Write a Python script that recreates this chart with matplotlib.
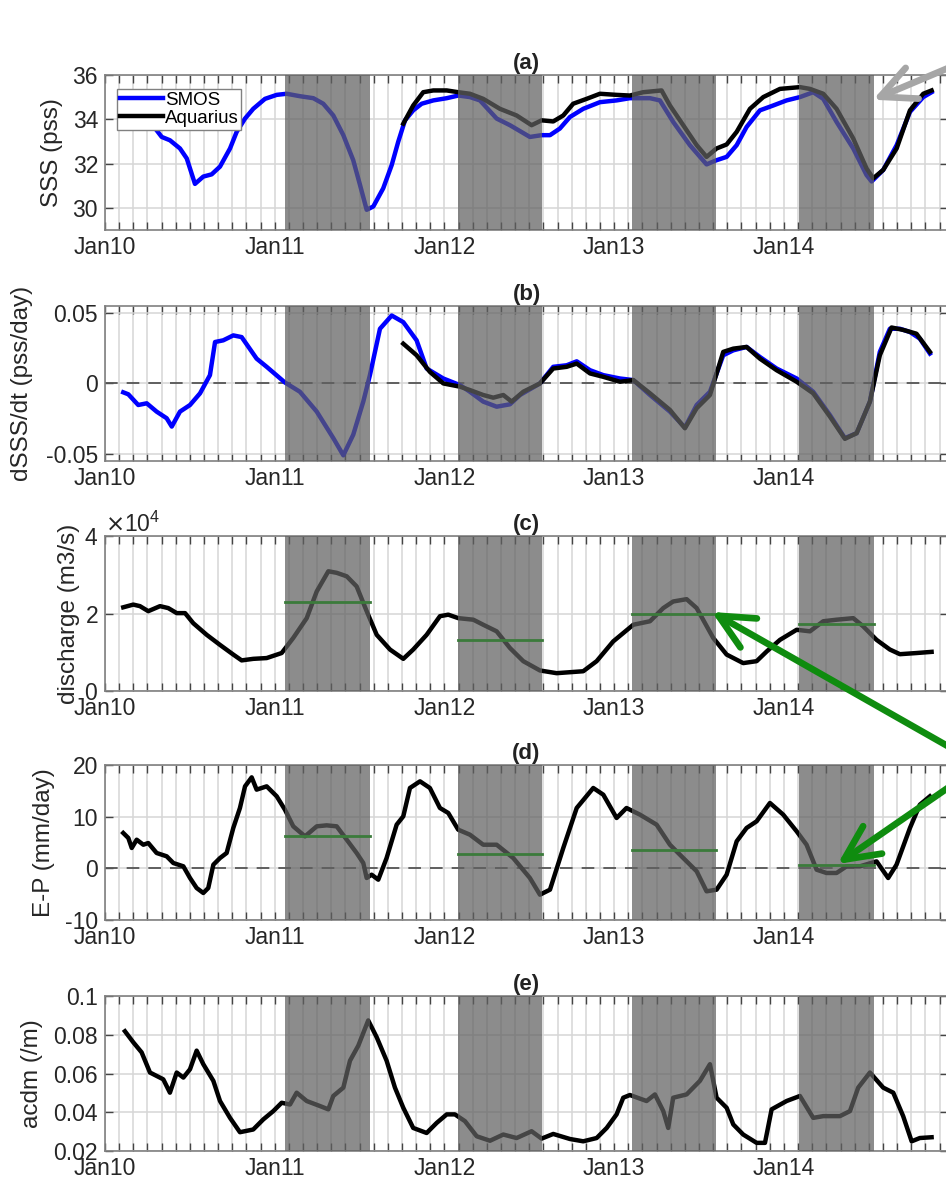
import numpy as np
import matplotlib.pyplot as plt
from matplotlib.ticker import FixedLocator

plt.rcParams['font.family'] = ['Liberation Sans', 'DejaVu Sans']
plt.rcParams['axes.unicode_minus'] = False

# time axis: months since 1 Jan 2010
year_ticks = [0, 12, 24, 36, 48]
year_labels = ['Jan10', 'Jan11', 'Jan12', 'Jan13', 'Jan14']
month_ticks = list(range(1, 60))

# shaded periods (months since Jan 2010)
shade_start = [12.75, 24.95, 37.25, 49.1]
shade_end = [18.75, 30.9, 43.2, 54.4]

# (a) SSS
smos_sss_t = [1.29, 3.41, 4.01, 4.59, 5.30, 5.78, 6.36, 6.95, 7.54, 8.13, 8.84, 9.31, 9.90, 10.48,
              11.31, 12.14, 12.84, 13.78, 14.73, 15.43, 16.14, 16.85, 17.55, 18.03, 18.50, 18.97,
              19.67, 20.27, 20.73, 21.21, 21.79, 22.39, 23.21, 24.16, 24.98, 25.80, 26.51, 27.69,
              28.63, 30.04, 30.87, 31.46, 32.16, 32.87, 33.81, 34.99, 36.17, 37.11, 38.53, 39.23,
              40.17, 41.35, 42.53, 43.24, 43.95, 44.66, 45.36, 46.30, 47.24, 48.19, 49.13, 50.07,
              50.78, 51.72, 52.90, 53.84, 54.20, 55.02, 55.97, 56.91, 57.85, 58.44]
smos_sss = [34.40, 33.70, 33.20, 33.05, 32.68, 32.23, 31.08, 31.41, 31.51, 31.86, 32.68, 33.43, 34.03,
            34.47, 34.92, 35.10, 35.15, 35.04, 34.95, 34.70, 34.17, 33.28, 32.15, 31.03, 29.91, 30.06,
            30.88, 31.93, 32.98, 33.95, 34.40, 34.70, 34.85, 34.95, 35.07, 35.00, 34.85, 34.03, 33.73,
            33.20, 33.28, 33.28, 33.58, 34.10, 34.47, 34.77, 34.85, 34.95, 34.95, 34.85, 33.88, 32.83,
            31.96, 32.15, 32.30, 32.83, 33.65, 34.40, 34.62, 34.85, 35.00, 35.22, 34.92, 33.88, 32.68,
            31.48, 31.19, 31.71, 32.83, 34.33, 35.00, 35.22]
aq_sss_t = [21.09, 21.79, 22.50, 23.21, 24.16, 24.98, 25.80, 26.74, 27.92, 29.10, 30.16, 30.87, 31.69,
            32.40, 33.10, 34.05, 34.99, 36.17, 37.11, 38.05, 39.35, 39.94, 40.88, 41.83, 42.53, 43.24,
            43.95, 44.66, 45.60, 46.54, 47.72, 49.13, 49.84, 50.78, 51.72, 52.90, 53.84, 54.31, 55.02,
            55.97, 56.91, 57.85, 58.44]
aq_sss = [33.80, 34.62, 35.22, 35.30, 35.30, 35.22, 35.15, 34.92, 34.47, 34.17, 33.73, 33.95, 33.90,
          34.17, 34.70, 34.92, 35.15, 35.10, 35.07, 35.22, 35.30, 34.62, 33.73, 32.83, 32.30, 32.68,
          32.86, 33.43, 34.47, 35.00, 35.37, 35.45, 35.37, 35.15, 34.47, 33.13, 31.78, 31.33, 31.71,
          32.68, 34.40, 35.15, 35.30]

# (b) dSSS/dt
smos_dsss_t = [1.29, 1.65, 2.35, 2.95, 3.65, 4.36, 4.72, 5.30, 6.01, 6.72, 7.42, 7.78, 8.36, 9.07,
               9.66, 10.72, 11.43, 12.72, 13.78, 14.97, 16.14, 16.85, 17.55, 18.26, 18.73, 19.44,
               20.27, 21.09, 22.03, 22.74, 23.92, 25.10, 25.80, 26.74, 27.69, 28.63, 29.34, 30.75,
               31.69, 32.64, 33.35, 34.29, 35.23, 36.41, 37.35, 38.53, 39.94, 41.00, 41.83, 42.77,
               43.71, 44.42, 45.36, 46.30, 47.48, 48.90, 50.07, 51.25, 52.31, 53.14, 54.08, 54.78,
               55.49, 56.20, 56.91, 57.61, 58.32]
smos_dsss = [-0.0063, -0.0077, -0.0153, -0.0141, -0.0200, -0.0247, -0.0306, -0.0200, -0.0153, -0.0070,
             0.0059, 0.0294, 0.0306, 0.0341, 0.0329, 0.0176, 0.0118, 0.0007, -0.0059, -0.0200, -0.0388,
             -0.0510, -0.0364, -0.0129, 0.0059, 0.0388, 0.0482, 0.0435, 0.0306, 0.0106, 0.0035, -0.0012,
             -0.0059, -0.0129, -0.0165, -0.0148, -0.0082, 0.0000, 0.0118, 0.0129, 0.0157, 0.0094,
             0.0059, 0.0035, 0.0024, -0.0082, -0.0200, -0.0313, -0.0153, -0.0059, 0.0200, 0.0235,
             0.0259, 0.0188, 0.0106, 0.0035, -0.0059, -0.0224, -0.0388, -0.0353, -0.0129, 0.0224,
             0.0388, 0.0388, 0.0365, 0.0318, 0.0212]
aq_dsss_t = [21.09, 22.03, 22.97, 23.92, 25.10, 25.80, 26.74, 27.45, 28.16, 28.75, 29.57, 30.75,
             31.69, 32.64, 33.35, 34.29, 35.23, 36.41, 37.35, 38.53, 39.94, 41.00, 41.83, 42.77,
             43.71, 44.42, 45.36, 46.30, 47.48, 48.90, 50.07, 51.25, 52.31, 53.14, 54.08, 54.78,
             55.61, 56.43, 57.37, 58.32]
aq_dsss = [0.0282, 0.0200, 0.0082, 0.0000, -0.0023, -0.0047, -0.0082, -0.0101, -0.0082, -0.0129,
           -0.0059, 0.0000, 0.0106, 0.0118, 0.0141, 0.0071, 0.0047, 0.0012, 0.0024, -0.0070, -0.0188,
           -0.0318, -0.0176, -0.0082, 0.0224, 0.0247, 0.0259, 0.0176, 0.0094, 0.0012, -0.0070,
           -0.0235, -0.0393, -0.0353, -0.0129, 0.0200, 0.0397, 0.0380, 0.0353, 0.0224]

# (c) discharge (m3/s)
dis_t = [1.29, 2.00, 2.47, 3.06, 3.89, 4.47, 5.07, 5.66, 6.24, 7.19, 8.13, 9.07, 9.66, 10.48, 11.43,
         12.49, 13.31, 14.26, 14.97, 15.79, 16.38, 17.09, 17.79, 18.50, 19.21, 20.15, 21.09, 21.79,
         22.74, 23.68, 24.27, 24.98, 26.04, 26.74, 27.69, 28.63, 29.57, 30.75, 31.93, 33.81, 34.76,
         35.93, 37.35, 38.53, 39.47, 40.17, 41.12, 41.83, 43.00, 43.95, 45.12, 46.07, 46.78, 47.72,
         48.90, 49.84, 50.78, 51.72, 52.90, 53.60, 54.55, 55.49, 56.20, 57.38, 58.44]
discharge = [21600, 22300, 21900, 20600, 21900, 21400, 20100, 20100, 17500, 14500, 11900, 9400, 7900,
             8300, 8500, 9800, 13700, 18800, 25700, 30900, 30500, 29600, 27000, 20600, 14500, 10700,
             8300, 10700, 14500, 19300, 19700, 18800, 18400, 17100, 15400, 11100, 7700, 5300, 4600,
             5100, 7700, 12800, 17100, 18000, 21400, 23100, 23700, 21400, 13700, 9400, 7200, 7700,
             10200, 13200, 15800, 15400, 18000, 18400, 18800, 16700, 13200, 10700, 9500, 9800, 10100]
dis_mean = [22900, 13200, 20000, 17300]

# (d) E-P (mm/day)
ep_t = [1.29, 1.65, 1.89, 2.24, 2.71, 3.06, 3.65, 4.36, 4.83, 5.54, 6.01, 6.48, 6.95, 7.30, 7.66,
        8.13, 8.60, 9.07, 9.54, 9.90, 10.37, 10.72, 11.43, 12.14, 12.72, 13.31, 14.14, 14.97, 15.67,
        16.38, 17.09, 17.79, 18.26, 18.50, 18.85, 19.32, 19.91, 20.62, 21.09, 21.56, 22.27, 22.97,
        23.68, 24.27, 24.97, 25.80, 26.74, 27.69, 28.86, 30.04, 30.75, 31.46, 32.40, 33.35, 34.52,
        35.23, 36.17, 36.87, 37.82, 39.00, 39.94, 40.88, 41.83, 42.53, 43.24, 43.95, 44.66, 45.36,
        46.07, 47.01, 47.95, 48.90, 49.60, 50.31, 51.01, 51.72, 52.43, 53.37, 54.55, 55.37, 55.96,
        56.91, 57.61, 58.32]
ep = [6.84, 5.87, 3.94, 5.54, 4.57, 4.90, 2.97, 2.33, 1.03, 0.39, -1.87, -3.81, -4.77, -3.81, 0.70,
      1.99, 2.97, 7.81, 11.68, 15.87, 17.61, 15.23, 15.87, 13.94, 11.35, 8.13, 6.19, 8.13, 8.32, 8.13,
      5.54, 2.97, 1.03, -1.87, -1.23, -2.20, 2.00, 8.45, 10.07, 15.55, 16.84, 15.55, 11.68, 10.71,
      7.48, 6.51, 4.57, 4.57, 2.00, -1.87, -5.10, -4.13, 3.94, 11.68, 15.55, 14.25, 9.74, 11.68,
      10.39, 8.45, 4.57, 2.00, -0.57, -4.45, -4.13, -1.23, 5.23, 7.81, 9.10, 12.65, 10.39, 7.16, 4.57,
      -0.26, -0.90, -0.90, 0.39, 0.39, 1.35, -1.87, 0.70, 7.81, 12.32, 13.94]
ep_mean = [6.26, 2.77, 3.55, 0.65]

# (e) acdm (/m)
acdm_t = [1.41, 2.00, 2.59, 3.18, 4.12, 4.59, 5.07, 5.54, 6.01, 6.48, 6.95, 7.66, 8.13, 8.84, 9.54,
          10.48, 11.19, 11.90, 12.49, 13.08, 13.55, 14.26, 15.20, 15.79, 16.14, 16.85, 17.32, 17.91,
          18.61, 19.21, 19.91, 20.50, 21.09, 21.79, 22.74, 23.45, 24.16, 24.74, 25.45, 26.28, 27.22,
          28.16, 29.10, 30.16, 30.87, 31.69, 32.87, 33.81, 34.76, 35.47, 36.17, 36.64, 37.11, 38.29,
          38.88, 39.47, 39.82, 40.17, 41.12, 42.06, 42.77, 43.24, 43.95, 44.42, 45.12, 46.07, 46.66,
          47.13, 48.19, 49.13, 50.07, 50.78, 51.96, 52.67, 53.25, 54.08, 55.02, 55.73, 56.43, 57.03,
          57.61, 58.44]
acdm = [0.0818, 0.0761, 0.0709, 0.0605, 0.0570, 0.0501, 0.0605, 0.0579, 0.0622, 0.0718, 0.0648,
        0.0562, 0.0458, 0.0371, 0.0297, 0.0311, 0.0363, 0.0406, 0.0449, 0.0440, 0.0501, 0.0458,
        0.0432, 0.0415, 0.0484, 0.0527, 0.0666, 0.0744, 0.0874, 0.0787, 0.0666, 0.0527, 0.0423,
        0.0319, 0.0293, 0.0345, 0.0389, 0.0389, 0.0354, 0.0276, 0.0253, 0.0285, 0.0267, 0.0302,
        0.0264, 0.0288, 0.0262, 0.0250, 0.0267, 0.0319, 0.0389, 0.0475, 0.0489, 0.0458, 0.0492,
        0.0406, 0.0319, 0.0475, 0.0492, 0.0562, 0.0648, 0.0475, 0.0423, 0.0337, 0.0285, 0.0242,
        0.0242, 0.0415, 0.0458, 0.0484, 0.0371, 0.0380, 0.0380, 0.0406, 0.0527, 0.0605, 0.0527,
        0.0501, 0.0380, 0.0250, 0.0267, 0.0271]

W, H = 946, 1181
fig = plt.figure(figsize=(W / 100, H / 100), dpi=100)
left, width, height = 105 / W, 843 / W, 155 / H
bottoms = [0.8053, 0.6097, 0.4149, 0.2210, 0.0254]
axes = [fig.add_axes([left, b, width, height]) for b in bottoms]

lw = 3.2
shade_col = (0.376, 0.376, 0.376)
green = '#3b7b3b'
tick_fs = 16.5
label_fs = 17.5


def style(ax, title, ylim, yticks, ylabels, ylab, labx):
    ax.set_xlim(0, 59.6)
    ax.set_ylim(*ylim)
    ax.xaxis.set_major_locator(FixedLocator(year_ticks))
    ax.xaxis.set_minor_locator(FixedLocator(month_ticks))
    ax.set_xticklabels(year_labels)
    ax.set_yticks(yticks)
    if ylabels is not None:
        ax.set_yticklabels(ylabels)
    ax.grid(which='both', axis='x', color='#d6d6d6', lw=1.1)
    ax.grid(which='major', axis='y', color='#d6d6d6', lw=1.1)
    ax.tick_params(which='both', direction='in', top=True, right=True, length=6, width=1,
                   color='#444444', labelcolor='#262626', labelsize=tick_fs)
    ax.tick_params(axis='x', pad=4.5)
    ax.tick_params(axis='y', pad=5)
    for sp in ax.spines.values():
        sp.set_color('#808080')
        sp.set_linewidth(1.2)
    for s, e in zip(shade_start, shade_end):
        ax.axvspan(s, e, color=shade_col, alpha=0.72, lw=0, zorder=3)
    ax.set_title(title, fontweight='bold', fontsize=16, pad=4, color='#222222')
    ax.set_ylabel(ylab, fontsize=label_fs, color='#262626')
    ax.yaxis.set_label_coords(labx, 0.5)


# (a)
ax = axes[0]
ax.plot(smos_sss_t, smos_sss, color='#0000ff', lw=lw, label='SMOS', zorder=2)
ax.plot(aq_sss_t, aq_sss, color='black', lw=lw, label='Aquarius', zorder=2.1)
style(ax, '(a)', (29, 36), [30, 32, 34, 36], None, 'SSS (pss)', -0.050)
leg = ax.legend(loc='upper left', bbox_to_anchor=(0.014, 0.91), borderaxespad=0, fontsize=13.5,
                handlelength=2.3, handletextpad=0.1, borderpad=0.15, labelspacing=0.05,
                fancybox=False, framealpha=1, edgecolor='#808080')
leg.set_zorder(5)

# (b)
ax = axes[1]
ax.plot(smos_dsss_t, smos_dsss, color='#0000ff', lw=lw, zorder=2)
ax.plot(aq_dsss_t, aq_dsss, color='black', lw=lw, zorder=2.1)
ax.axhline(0, color='#555555', lw=1.3, ls=(0, (7, 5)), zorder=1.8)
style(ax, '(b)', (-0.055, 0.055), [-0.05, 0, 0.05], ['-0.05', '0', '0.05'],
      'dSSS/dt (pss/day)', -0.085)

# (c)
ax = axes[2]
ax.plot(dis_t, discharge, color='black', lw=lw, zorder=2)
style(ax, '(c)', (0, 40000), [0, 20000, 40000], None, 'discharge (m3/s)', -0.030)
ax.ticklabel_format(axis='y', style='sci', scilimits=(4, 4), useMathText=True)
ax.yaxis.get_offset_text().set_fontsize(tick_fs)
ax.yaxis.get_offset_text().set_color('#262626')
for s, e, v in zip(shade_start, shade_end, dis_mean):
    ax.plot([s, e], [v, v], color=green, lw=2, zorder=4)

# (d)
ax = axes[3]
ax.plot(ep_t, ep, color='black', lw=lw, zorder=2)
ax.axhline(0, color='#555555', lw=1.3, ls=(0, (7, 5)), zorder=1.8)
style(ax, '(d)', (-10, 20), [-10, 0, 10, 20], None, 'E-P (mm/day)', -0.059)
for s, e, v in zip(shade_start, shade_end, ep_mean):
    ax.plot([s, e], [v, v], color=green, lw=2, zorder=4)

# (e)
ax = axes[4]
ax.plot(acdm_t, acdm, color='black', lw=lw, zorder=2)
style(ax, '(e)', (0.02, 0.1), [0.02, 0.04, 0.06, 0.08, 0.1],
      ['0.02', '0.04', '0.06', '0.08', '0.1'], 'acdm (/m)', -0.074)

# arrows from outside the right edge
arrow_kw = dict(arrowstyle='->,head_length=0.5,head_width=0.24', lw=4.8,
                shrinkA=0, shrinkB=0, mutation_scale=50)
axes[0].annotate('', xy=(54.3, 34.88), xycoords='data', xytext=(1010, 1181 - 42),
                 textcoords='figure pixels', annotation_clip=False, zorder=10,
                 arrowprops=dict(color='#a6a6a6', **arrow_kw))
axes[2].annotate('', xy=(42.9, 20400), xycoords='data', xytext=(981, 1181 - 765),
                 textcoords='figure pixels', annotation_clip=False, zorder=10,
                 arrowprops=dict(color='#0f8c0f', **arrow_kw))
axes[3].annotate('', xy=(51.8, 0.84), xycoords='data', xytext=(981, 1181 - 765),
                 textcoords='figure pixels', annotation_clip=False, zorder=10,
                 arrowprops=dict(color='#0f8c0f', **arrow_kw))

fig.savefig('out.png', dpi=100)
